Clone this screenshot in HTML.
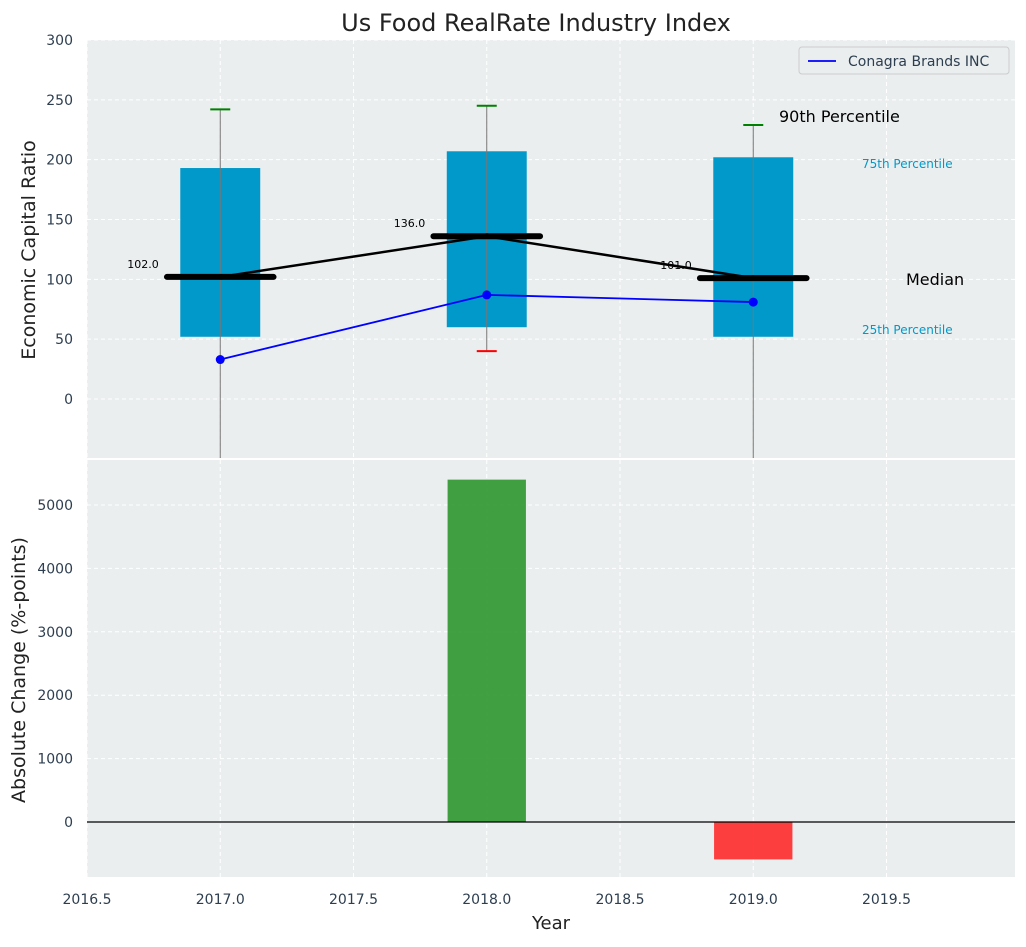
<!DOCTYPE html>
<html><head><meta charset="utf-8"><style>
body{margin:0;background:#fff;font-family:"Liberation Sans","DejaVu Sans",sans-serif}
svg text{font-family:"DejaVu Sans","Liberation Sans",sans-serif}
</style></head><body>
<svg id="c" width="1026" height="942" xmlns="http://www.w3.org/2000/svg"></svg>
<script>
const years=[2017,2018,2019];
const q25=[52,60,52];
const q75=[193,207,202];
const medians=[102,136,101];
const p90=[242,245,229];
const p10=[-60,40,-60];
const conagra=[33,87,81];
const changes=[0,5400,-590];
const xTicks=[2016.5,2017,2017.5,2018,2018.5,2019,2019.5];
const yTopTicks=[0,50,100,150,200,250,300];
const yBotTicks=[0,1000,2000,3000,4000,5000];

const svg=document.getElementById('c');const NS='http://www.w3.org/2000/svg';
function mk(t,a,p){const e=document.createElementNS(NS,t);for(const k in a)e.setAttribute(k,a[k]);(p||svg).appendChild(e);return e;}
const X=v=>87+(v-2016.5)*266.5;
const YT=v=>399-v*1.1967;
const YB=v=>822-v*0.0634;
const L=87,R=1015,T1=40,B1=458,T2=460,B2=877;
let e;
e=mk('rect',{x:L,y:T1,width:R-L,height:B1-T1,fill:'#eaeeef'});


e=mk('rect',{x:L,y:T2,width:R-L,height:B2-T2,fill:'#eaeeef'});


xTicks.forEach(t=>{mk('line',{x1:X(t),x2:X(t),y1:T1,y2:B1,stroke:'#fff','stroke-dasharray':'4,3','stroke-width':1});mk('line',{x1:X(t),x2:X(t),y1:T2,y2:B2,stroke:'#fff','stroke-dasharray':'4,3','stroke-width':1});
 e=mk('text',{x:X(t),y:904,'font-size':14,fill:'#2d3e50','text-anchor':'middle'});e.textContent=t.toFixed(1);
 
 });
yTopTicks.forEach(t=>{mk('line',{x1:L,x2:R,y1:YT(t),y2:YT(t),stroke:'#fff','stroke-dasharray':'4,3'});
 e=mk('text',{x:73,y:YT(t)+5,'font-size':14,fill:'#2d3e50','text-anchor':'end'});e.textContent=t;
 
 });
yBotTicks.forEach(t=>{mk('line',{x1:L,x2:R,y1:YB(t),y2:YB(t),stroke:'#fff','stroke-dasharray':'4,3'});
 e=mk('text',{x:73,y:YB(t)+5,'font-size':14,fill:'#2d3e50','text-anchor':'end'});e.textContent=t;
 
 });
years.forEach((y,i)=>{
 e=mk('rect',{x:X(y-0.15),y:YT(q75[i]),width:X(y+0.15)-X(y-0.15),height:YT(q25[i])-YT(q75[i]),fill:'#0099c9'});
 
 
 mk('line',{x1:X(y),x2:X(y),y1:YT(p90[i]),y2:Math.min(B1,YT(p10[i])),stroke:'#777','stroke-width':1});
 mk('line',{x1:X(y)-10,x2:X(y)+10,y1:YT(p90[i]),y2:YT(p90[i]),stroke:'green','stroke-width':2});
 if(YT(p10[i])<B1) mk('line',{x1:X(y)-10,x2:X(y)+10,y1:YT(p10[i]),y2:YT(p10[i]),stroke:'red','stroke-width':2});
});
e=mk('polyline',{points:years.map((y,i)=>X(y)+','+YT(medians[i])).join(' '),fill:'none',stroke:'#000','stroke-width':2.5});


years.forEach((y,i)=>{
 e=mk('line',{x1:X(y-0.2),x2:X(y+0.2),y1:YT(medians[i]),y2:YT(medians[i]),stroke:'#000','stroke-width':6,'stroke-linecap':'round'});
 
 
 e=mk('text',{x:X(y-0.29),y:YT(medians[i])-9,'font-size':11,fill:'#000','text-anchor':'middle'});e.textContent=medians[i].toFixed(1);
 
 
});
e=mk('polyline',{points:years.map((y,i)=>X(y)+','+YT(conagra[i])).join(' '),fill:'none',stroke:'blue','stroke-width':1.8});


years.forEach((y,i)=>{e=mk('circle',{cx:X(y),cy:YT(conagra[i]),r:4.5,fill:'blue'});
 
 });
[['90th Percentile',779,122,16,'#000'],['75th Percentile',862,168,12,'#0099c9'],['Median',906,285,16,'#000'],['25th Percentile',862,334,12,'#0099c9']].forEach(a=>{
 e=mk('text',{x:a[1],y:a[2],'font-size':a[3],fill:a[4]});e.textContent=a[0];
 
 });
years.forEach((y,i)=>{const v=changes[i];if(!v)return;
 e=mk('rect',{x:X(y-0.147),y:Math.min(YB(v),YB(0)),width:X(y+0.147)-X(y-0.147),height:Math.abs(YB(v)-YB(0)),fill:v>0?'#2e962e':'#ff2a2a','fill-opacity':0.9});
 
 });
mk('line',{x1:L,x2:R,y1:YB(0),y2:YB(0),stroke:'#000','stroke-width':1.2});
mk('line',{x1:L,x2:R,y1:459,y2:459,stroke:'#fff','stroke-width':2});
e=mk('g',{});
mk('rect',{x:799,y:47,width:210,height:27,rx:3,fill:'#eaeeef',stroke:'#ccc'},e);
mk('line',{x1:808,x2:836,y1:61,y2:61,stroke:'blue','stroke-width':1.8},e);
const lt=mk('text',{x:848,y:66,'font-size':14,fill:'#2d3e50'},e);lt.textContent='Conagra Brands INC';
e=mk('text',{x:536,y:31,'font-size':24,fill:'#222','text-anchor':'middle'});e.textContent='Us Food RealRate Industry Index';

e=mk('text',{x:551,y:929,'font-size':18,fill:'#222','text-anchor':'middle'});e.textContent='Year';

e=mk('text',{x:0,y:0,'font-size':19,fill:'#222','text-anchor':'middle',transform:'translate(35,250) rotate(-90)'});e.textContent='Economic Capital Ratio';

e=mk('text',{x:0,y:0,'font-size':19,fill:'#222','text-anchor':'middle',transform:'translate(25,670) rotate(-90)'});e.textContent='Absolute Change (%-points)';

</script>
</body></html>
